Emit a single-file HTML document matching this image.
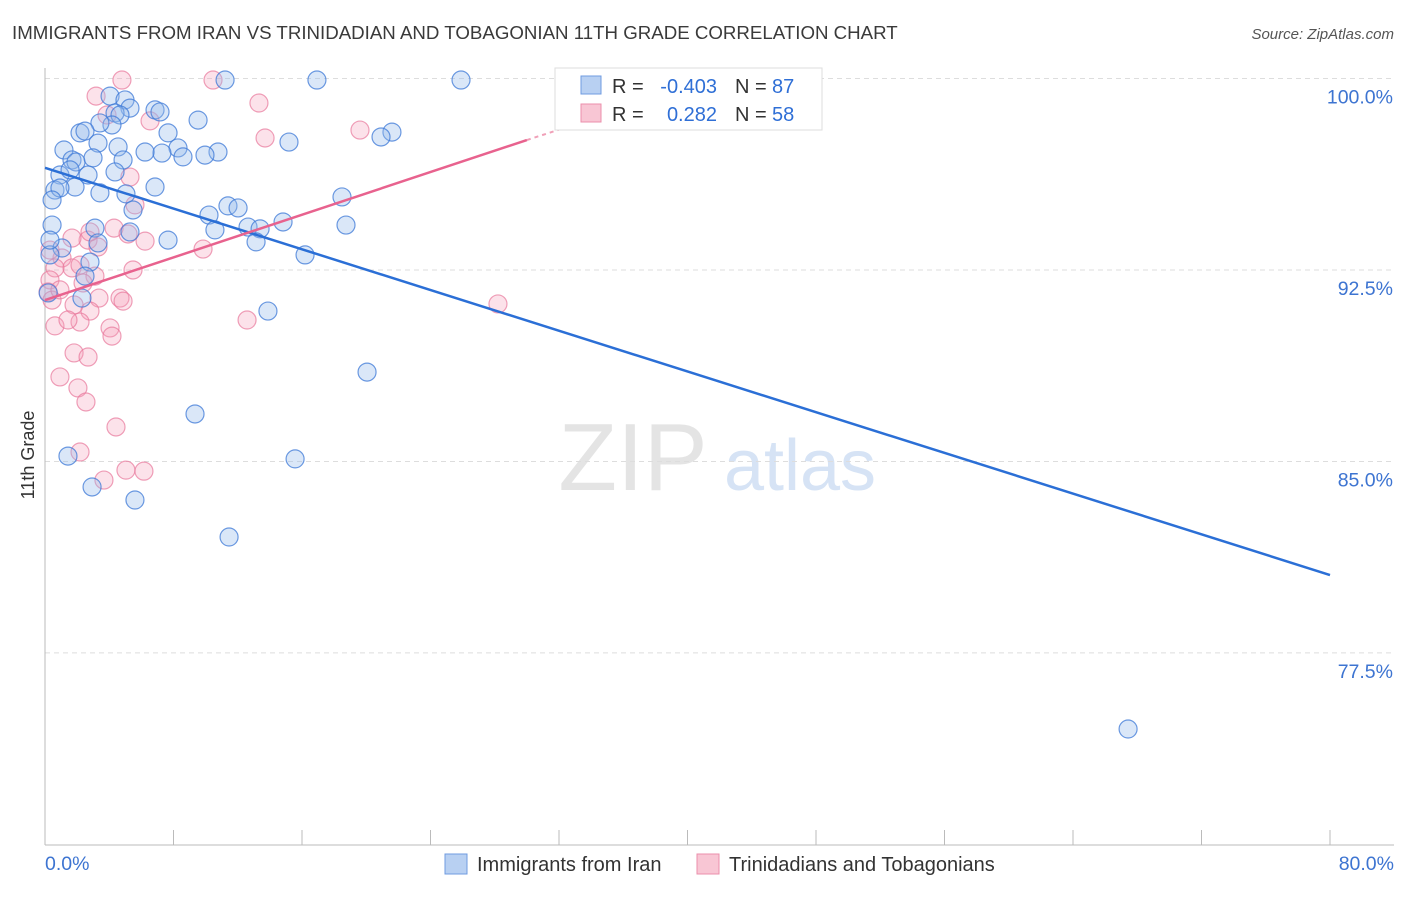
<!DOCTYPE html>
<html><head><meta charset="utf-8"><style>
body{margin:0;background:#fff;font-family:"Liberation Sans",sans-serif;}
svg text{font-family:"Liberation Sans",sans-serif;}
</style></head><body>
<svg id="chart" width="1406" height="892" xmlns="http://www.w3.org/2000/svg">
<text x="12" y="39" font-size="18.7" fill="#3a3a3a">IMMIGRANTS FROM IRAN VS TRINIDADIAN AND TOBAGONIAN 11TH GRADE CORRELATION CHART</text>
<text x="1394" y="39" font-size="15" fill="#555" text-anchor="end" font-style="italic">Source: ZipAtlas.com</text>
<text x="34" y="455" font-size="18" fill="#333" text-anchor="middle" transform="rotate(-90 34 455)">11th Grade</text>
<g><text x="633" y="490" font-size="96" fill="#e4e4e4" text-anchor="middle" font-family="Liberation Serif,serif">ZIP</text><text x="800" y="490" font-size="72" fill="#d6e3f5" text-anchor="middle">atlas</text></g>
<g id="grid"></g><g id="axes"></g><g id="pts"></g><g id="lines"></g>
<g>
<rect x="555" y="68" width="267" height="62" fill="#fff" stroke="#ddd"/>
<rect x="581" y="76" width="20" height="18" fill="#b8d0f2" stroke="#6f9be0"/>
<rect x="581" y="104" width="20" height="18" fill="#f8c6d4" stroke="#eb8fab"/>
<text x="612" y="93" font-size="20" fill="#333">R =</text>
<text x="717" y="93" font-size="20" fill="#2f6fd6" text-anchor="end">-0.403</text>
<text x="735" y="93" font-size="20" fill="#333">N =</text>
<text x="772" y="93" font-size="20" fill="#2f6fd6">87</text>
<text x="612" y="121" font-size="20" fill="#333">R =</text>
<text x="717" y="121" font-size="20" fill="#2f6fd6" text-anchor="end">0.282</text>
<text x="735" y="121" font-size="20" fill="#333">N =</text>
<text x="772" y="121" font-size="20" fill="#2f6fd6">58</text>
</g>
<g>
<rect x="445" y="854" width="22" height="20" fill="#b8d0f2" stroke="#6f9be0"/>
<text x="477" y="871" font-size="20" fill="#333">Immigrants from Iran</text>
<rect x="697" y="854" width="22" height="20" fill="#f8c6d4" stroke="#eb8fab"/>
<text x="729" y="871" font-size="20" fill="#333">Trinidadians and Tobagonians</text>
</g>
</svg>
<script>
const yTicks=[100,92.5,85,77.5];
const yTickLabels=["100.0%","92.5%","85.0%","77.5%"];
const xTickLabels=["0.0%","80.0%"];
const blueX=[4.05,4.98,5.29,6.85,7.16,4.36,4.67,4.17,3.42,2.18,2.49,7.66,9.53,11.21,16.93,25.90,21.60,20.92,15.19,10.77,9.96,8.28,8.59,7.28,6.23,4.55,4.86,3.30,1.18,1.68,1.93,2.99,4.36,0.93,1.56,1.87,2.68,0.62,0.93,0.44,6.85,3.42,5.04,5.48,11.39,12.02,10.21,10.58,12.64,13.39,14.82,18.49,18.74,13.14,16.19,7.66,3.11,3.30,1.06,0.31,2.80,2.49,2.30,13.88,20.05,9.34,1.43,15.57,2.93,5.60,11.46,67.43,0.44,0.31,5.29,0.2];
const blueY=[99.31,99.16,98.84,98.77,98.69,98.65,98.57,98.18,98.26,97.87,97.94,97.87,98.37,99.94,99.94,99.94,97.90,97.71,97.51,97.12,97.00,97.28,96.93,97.08,97.12,97.32,96.81,97.47,97.20,96.81,96.73,96.89,96.34,96.22,96.42,95.75,96.22,95.63,95.71,95.24,95.75,95.52,95.48,94.85,95.01,94.93,94.65,94.07,94.18,94.11,94.38,95.36,94.26,93.60,93.09,93.67,94.14,93.56,93.36,93.09,92.81,92.26,91.40,90.89,88.50,86.86,85.21,85.10,84.00,83.49,82.04,74.52,94.26,93.67,93.99,91.6];
const pinkX=[4.79,10.46,3.18,13.32,6.54,13.70,19.61,3.86,5.29,5.60,4.30,5.17,6.23,2.68,1.68,1.06,1.68,2.18,3.11,3.30,9.84,2.37,0.62,0.31,0.19,0.44,3.36,4.67,4.86,1.81,2.80,5.48,0.62,2.18,1.43,4.05,4.17,12.58,28.20,1.81,2.68,0.93,2.05,2.55,4.42,2.18,3.67,5.04,6.16,0.31,0.93,2.80];
const pinkY=[99.94,99.94,99.31,99.04,98.34,97.67,97.98,98.57,96.14,95.05,94.14,93.91,93.63,93.67,93.75,92.97,92.58,92.69,92.26,93.40,93.32,91.99,92.58,92.11,91.64,91.32,91.40,91.40,91.28,91.13,90.89,92.50,90.31,90.46,90.54,90.23,89.91,90.54,91.17,89.25,89.09,88.31,87.88,87.33,86.35,85.37,84.27,84.66,84.62,93.28,91.72,93.99];
const blueTrend=[[0,96.5],[80,80.55]];
const pinkTrend=[[0,91.32],[30,97.59]];
const pinkDash=[[30,97.59],[33.5,98.3]];
const NS="http://www.w3.org/2000/svg";
const sx=v=>45+v/80*1285, sy=v=>78.5+(100-v)*25.53;
function mk(t,a,p){const e=document.createElementNS(NS,t);for(const k in a)e.setAttribute(k,a[k]);document.getElementById(p).appendChild(e);return e;}
yTicks.forEach((t,i)=>{
 const g=mk('line',{x1:45,x2:1394,y1:sy(t),y2:sy(t),stroke:'#ddd','stroke-dasharray':'5,4'},'grid');
 
 
 const l=mk('text',{x:1393,y:sy(t)+25,'font-size':19.5,fill:'#3d74d1','text-anchor':'end'},'axes');l.textContent=yTickLabels[i];
 
 
});
mk('line',{x1:45,x2:45,y1:68,y2:845,stroke:'#bbb'},'axes');
mk('line',{x1:45,x2:1394,y1:845,y2:845,stroke:'#bbb'},'axes');
for(let i=0;i<=10;i++){const x=sx(i*8);mk('line',{x1:x,x2:x,y1:830,y2:845,stroke:'#bbb'},'axes');}
[[0,'start',45],[1,'end',1394]].forEach(([i,a,x])=>{const t=mk('text',{x:x,y:870,'font-size':19.5,fill:'#3d74d1','text-anchor':a},'axes');t.textContent=xTickLabels[i];
 
 });
pinkX.forEach((x,i)=>{const c=mk('circle',{cx:sx(x),cy:sy(pinkY[i]),r:9,fill:'rgba(245,160,185,0.3)',stroke:'rgba(232,120,155,0.7)','stroke-width':1.2},'pts');
 
 });
blueX.forEach((x,i)=>{const c=mk('circle',{cx:sx(x),cy:sy(blueY[i]),r:9,fill:'rgba(150,185,235,0.35)',stroke:'rgba(60,120,215,0.75)','stroke-width':1.2},'pts');
 
 });
const bl=mk('line',{x1:sx(blueTrend[0][0]),y1:sy(blueTrend[0][1]),x2:sx(blueTrend[1][0]),y2:sy(blueTrend[1][1]),stroke:'#2b6fd6','stroke-width':2.5},'lines');


const pl=mk('line',{x1:sx(pinkTrend[0][0]),y1:sy(pinkTrend[0][1]),x2:sx(pinkTrend[1][0]),y2:sy(pinkTrend[1][1]),stroke:'#e8628e','stroke-width':2.5},'lines');


const pd=mk('line',{x1:sx(pinkDash[0][0]),y1:sy(pinkDash[0][1]),x2:sx(pinkDash[1][0]),y2:sy(pinkDash[1][1]),stroke:'#f0a0b8','stroke-width':2,'stroke-dasharray':'4,4'},'lines');


</script>
</body></html>
